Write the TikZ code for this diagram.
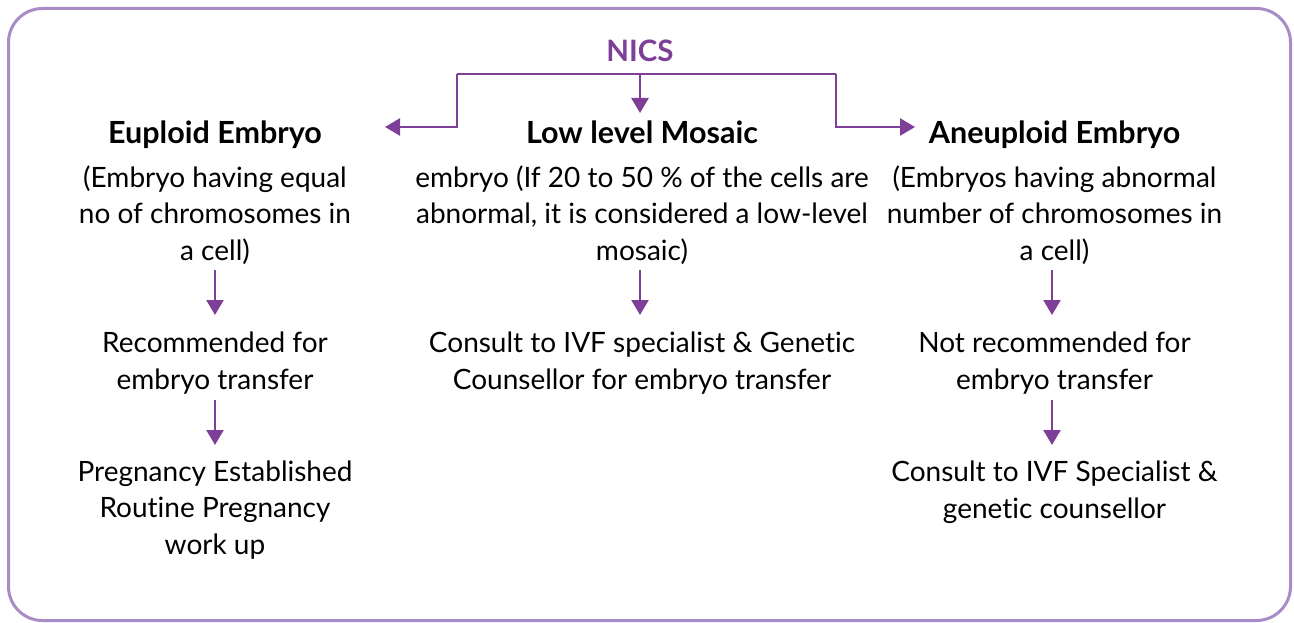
\documentclass[tikz,border=0pt]{standalone}
\usepackage{fontspec}
\setmainfont[Ligatures=NoCommon]{Lato}
\usetikzlibrary{arrows.meta}
\definecolor{arrowpurple}{HTML}{7E3F98}
\definecolor{framepurple}{HTML}{A98BC6}
\tikzset{
  body/.style={align=center, inner sep=0pt, font=\fontsize{28}{36.5}\selectfont},
  title/.style={align=center, inner sep=0pt, anchor=base, font=\bfseries\fontsize{30.5}{34}\selectfont},
  arr/.style={draw=arrowpurple, line width=2.5pt, -{Triangle[width=17pt,length=15pt]}},
  plain/.style={draw=arrowpurple, line width=2.5pt},
}
\begin{document}
\begin{tikzpicture}[x=1pt,y=-1pt]
\useasboundingbox (0,0) rectangle (1294,623);
\draw[framepurple, line width=3pt, rounded corners=34pt] (8.5,8.5) rectangle (1290.5,620.5);

\node[align=center, inner sep=0pt, text=arrowpurple, font=\bfseries\fontsize{29.5}{34}\selectfont] (nics) at (640,51) {NICS};

% titles
\node[title] (eupT) at (215,144) {Euploid Embryo};
\node[title] (lowT) at (642,144) {Low level Mosaic};
\node[title] (aneT) at (1054.5,144) {Aneuploid Embryo};

% paragraphs
\node[body] (eupP) at (215,215) {(Embryo having equal\\no of chromosomes in\\a cell)};
\node[body] (lowP) at (642,215) {embryo (If 20 to 50 \% of the cells are\\abnormal, it is considered a low-level\\mosaic)};
\node[body] (aneP) at (1054.5,215) {(Embryos having abnormal\\number of chromosomes in\\a cell)};

% second level
\node[body] (eupR) at (215,363) {Recommended for\\embryo transfer};
\node[body] (lowR) at (642,363) {Consult to IVF specialist \& Genetic\\Counsellor for embryo transfer};
\node[body] (aneR) at (1054.5,363) {Not recommended for\\embryo transfer};

% third level
\node[body] (eupQ) at (215,510) {Pregnancy Established\\Routine Pregnancy\\work up};
\node[body] (aneQ) at (1054.5,492) {Consult to IVF Specialist \&\\genetic counsellor};

% bracket from NICS
\coordinate (bl) at (457,74);
\coordinate (bc) at (640,74);
\coordinate (br) at (836,74);
\coordinate (tl) at (385,127);
\coordinate (tr) at (915,127);
\coordinate (tc) at (640,113);
\draw[plain] (bl) -- (br);
\draw[arr] (bl) |- (tl);
\draw[arr] (br) |- (tr);
\draw[arr] (bc) -- (tc);

% vertical arrow end points
\coordinate (e1s) at (215,270);  \coordinate (e1e) at (215,315);
\coordinate (m1s) at (640,270);  \coordinate (m1e) at (640,315);
\coordinate (a1s) at (1052,270); \coordinate (a1e) at (1052,315);
\coordinate (e2s) at (215,400);  \coordinate (e2e) at (215,445);
\coordinate (a2s) at (1052,400); \coordinate (a2e) at (1052,445);
\draw[arr] (e1s) -- (e1e);
\draw[arr] (m1s) -- (m1e);
\draw[arr] (a1s) -- (a1e);
\draw[arr] (e2s) -- (e2e);
\draw[arr] (a2s) -- (a2e);
\end{tikzpicture}
\end{document}
